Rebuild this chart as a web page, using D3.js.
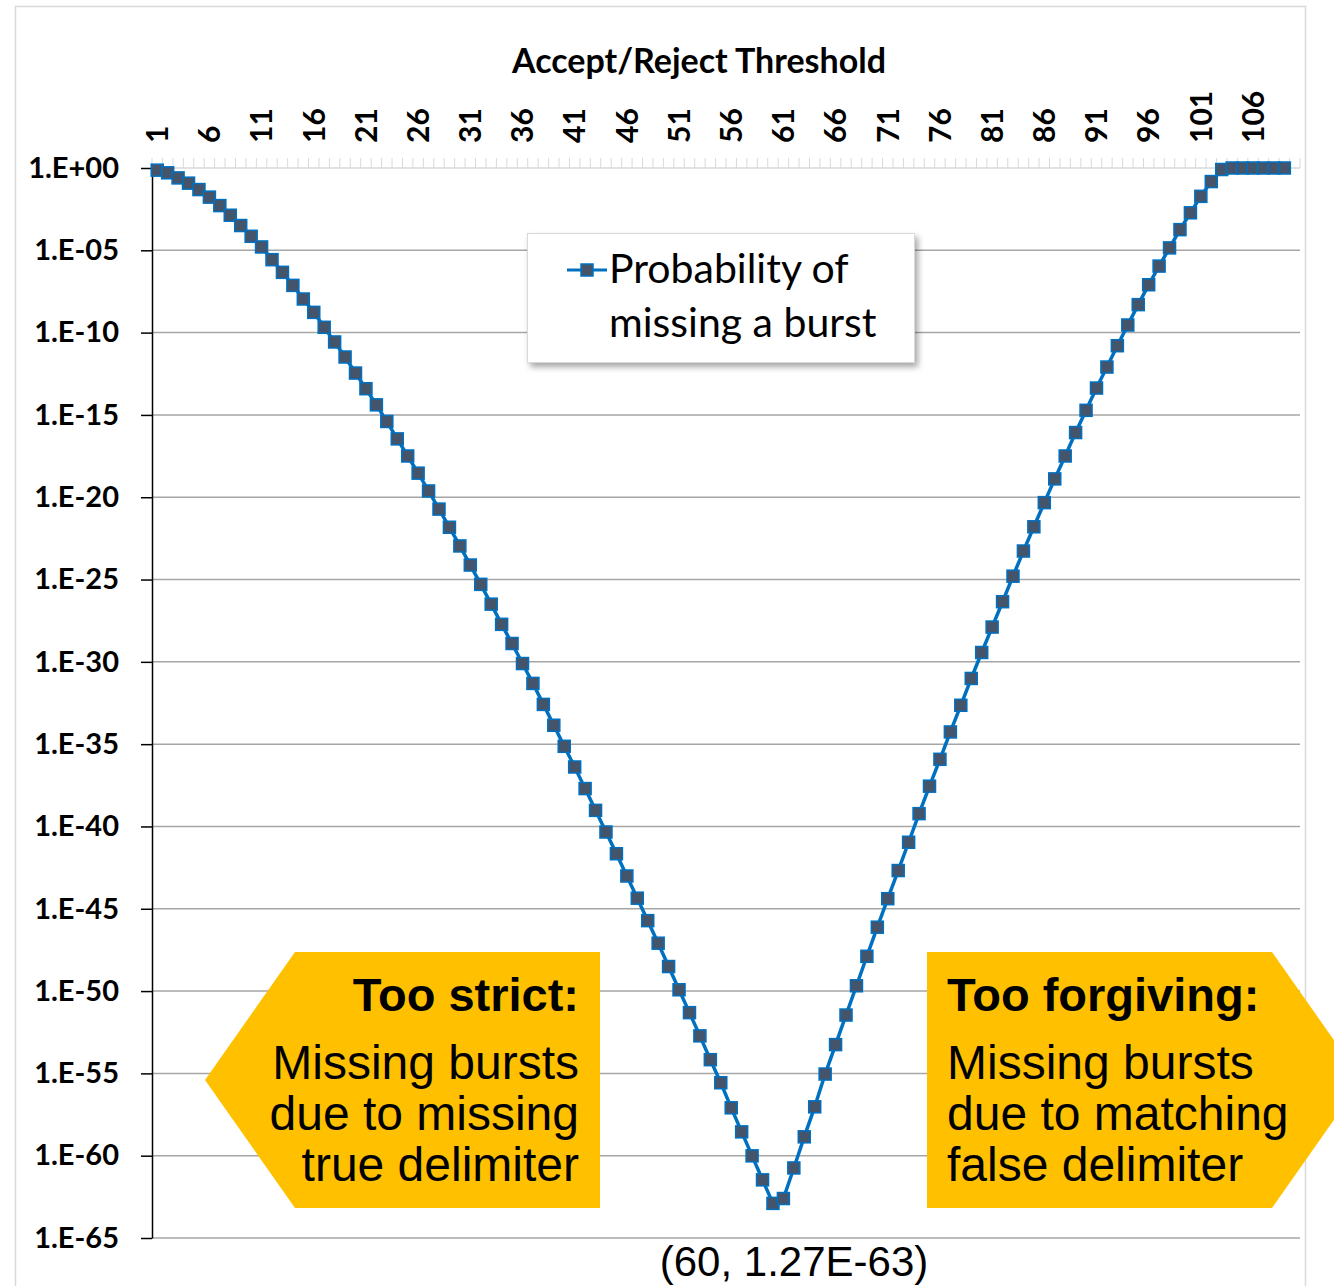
<!DOCTYPE html>
<html><head><meta charset="utf-8">
<script src="https://cdn.jsdelivr.net/npm/d3@7"></script>
<style>body{margin:0;background:#fff} svg{display:block}</style>
</head><body>
<svg id="chart" width="1334" height="1286"></svg>
<script>
const thresholds = [
  1,2,3,4,5,6,7,8,9,10,11,12,13,14,15,16,17,18,19,20,
  21,22,23,24,25,26,27,28,29,30,31,32,33,34,35,36,37,38,39,40,
  41,42,43,44,45,46,47,48,49,50,51,52,53,54,55,56,57,58,59,60,
  61,62,63,64,65,66,67,68,69,70,71,72,73,74,75,76,77,78,79,80,
  81,82,83,84,85,86,87,88,89,90,91,92,93,94,95,96,97,98,99,100,
  101,102,103,104,105,106,107,108,109,110];
const probMissing = [
  7.4e-1, 5.1e-1, 2.5e-1, 1.2e-1, 4.9e-2, 1.7e-2, 5.2e-3, 1.35e-3, 3.2e-4, 7.1e-5,
  1.6e-5, 2.7e-6, 4.6e-7, 7.4e-8, 1.1e-8, 1.7e-9, 2.1e-10, 2.7e-11, 3.3e-12, 3.5e-13,
  3.9e-14, 4.1e-15, 4.0e-16, 3.5e-17, 3.2e-18, 2.9e-19, 2.4e-20, 1.9e-21, 1.5e-22, 1.1e-23,
  7.6e-25, 5.1e-26, 3.2e-27, 1.9e-28, 1.3e-29, 7.9e-31, 4.9e-32, 2.6e-33, 1.4e-34, 7.4e-36,
  4.1e-37, 2.0e-38, 9.5e-40, 4.6e-41, 2.2e-42, 9.8e-44, 4.4e-45, 1.9e-46, 8.1e-48, 3.1e-49,
  1.2e-50, 4.9e-52, 1.9e-53, 6.8e-55, 2.7e-56, 8.1e-58, 2.8e-59, 9.8e-61, 3.4e-62, 1.27e-63,
  2.5e-63, 1.8e-61, 1.4e-59, 9.3e-58, 9.1e-56, 5.6e-54, 3.5e-52, 2.1e-50, 1.3e-48, 7.6e-47,
  4.1e-45, 2.1e-43, 1.1e-41, 6.0e-40, 2.8e-38, 1.2e-36, 5.5e-35, 2.3e-33, 9.8e-32, 3.7e-30,
  1.3e-28, 4.5e-27, 1.6e-25, 5.4e-24, 1.6e-22, 4.7e-21, 1.3e-19, 3.2e-18, 8.5e-17, 1.9e-15,
  4.3e-14, 8.1e-13, 1.6e-11, 2.9e-10, 5.0e-9, 8.1e-8, 1.1e-6, 1.4e-5, 1.8e-4, 1.9e-3,
  1.9e-2, 1.5e-1, 8.1e-1, 1, 1, 1, 1, 1, 1, null];
const xTickLabels = [1,6,11,16,21,26,31,36,41,46,51,56,61,66,71,76,81,86,91,96,101,106];
const yTickValues = [1e0,1e-5,1e-10,1e-15,1e-20,1e-25,1e-30,1e-35,1e-40,1e-45,1e-50,1e-55,1e-60,1e-65];
const yTickLabels = ["1.E+00","1.E-05","1.E-10","1.E-15","1.E-20","1.E-25","1.E-30","1.E-35","1.E-40","1.E-45","1.E-50","1.E-55","1.E-60","1.E-65"];
const xAxisTitle = "Accept/Reject Threshold";
const legendLines = ["Probability of", "missing a burst"];
const leftNoteTitle = "Too strict:";
const leftNoteLines = ["Missing bursts", "due to missing", "true delimiter"];
const rightNoteTitle = "Too forgiving:";
const rightNoteLines = ["Missing bursts", "due to matching", "false delimiter"];
const minLabel = "(60, 1.27E-63)";

(function () {
const svg = d3.select("#chart");
const defs = svg.append("defs");
const f = defs.append("filter").attr("id","shadow").attr("x","-10%").attr("y","-10%").attr("width","130%").attr("height","140%");
f.append("feDropShadow").attr("dx",3).attr("dy",4).attr("stdDeviation",3).attr("flood-color","#000").attr("flood-opacity",0.35);

// chart border
svg.append("rect").attr("x",15.5).attr("y",6.5).attr("width",1290).attr("height",1300)
  .attr("fill","#fff").attr("stroke","#d9d9d9").attr("stroke-width",1.5);

const pL = 152, pR = 1300, pT = 168, pB = 1238;
const x = d3.scaleBand().domain(thresholds).range([pL, pR]).paddingInner(0).paddingOuter(0);
const bw = x.bandwidth();
const y = d3.scaleLog().domain([1e-65, 1]).range([pB, pT]);

// gridlines
svg.append("g").selectAll("line").data(yTickValues.filter(v => v < 1)).join("line")
  .attr("x1", pL).attr("x2", pR).attr("y1", d => y(d)).attr("y2", d => y(d))
  .attr("stroke", "#a6a6a6").attr("stroke-width", 1.5);

// top category axis line + ticks
const tickPos = thresholds.map(c => x(c)).concat([pR]);
svg.append("g").selectAll("line").data(tickPos).join("line")
  .attr("x1", d => d).attr("x2", d => d).attr("y1", pT - 10).attr("y2", pT)
  .attr("stroke", "#d9d9d9").attr("stroke-width", 1);
svg.append("line").attr("x1", pL).attr("x2", pR).attr("y1", pT).attr("y2", pT)
  .attr("stroke", "#d9d9d9").attr("stroke-width", 1.5);

// top labels
const xa = svg.append("g").attr("transform", `translate(0,143)`)
  .call(d3.axisTop(x).tickValues(xTickLabels).tickSize(0).tickPadding(0));
xa.select(".domain").remove();
xa.selectAll("text").attr("transform", "rotate(-90)").attr("x", 0).attr("y", 0)
  .attr("dy", "0.36em").attr("text-anchor", "start")
  .attr("font-family", "Lato").attr("font-weight", "bold").attr("font-size", 30).attr("fill", "#000");

// y axis
const ya = svg.append("g").attr("transform", `translate(${pL},0)`)
  .call(d3.axisLeft(y).tickValues(yTickValues).tickFormat((d, i) => yTickLabels[i])
    .tickSize(11).tickSizeOuter(0).tickPadding(22));
ya.select(".domain").attr("stroke", "#000").attr("stroke-width", 1.5);
ya.selectAll(".tick line").attr("stroke", "#000").attr("stroke-width", 1.5);
ya.selectAll("text").attr("font-family", "Lato").attr("font-weight", "bold").attr("font-size", 29).attr("fill", "#000");

// axis title
svg.append("text").attr("x", 699).attr("y", 73).attr("text-anchor", "middle")
  .attr("font-family", "Lato").attr("font-weight", "bold").attr("font-size", 34).text(xAxisTitle);

// annotations
svg.append("polygon").attr("fill", "#FFC000")
  .attr("points", "205,1080 295,952 600,952 600,1208 295,1208");
svg.append("polygon").attr("fill", "#FFC000")
  .attr("points", "927,952 1272,952 1362,1080 1272,1208 927,1208");
const noteFont = "'Liberation Sans', Arial, sans-serif";
svg.append("text").attr("x", 579).attr("y", 1011).attr("text-anchor", "end")
  .attr("font-family", noteFont).attr("font-weight", "bold").attr("font-size", 47).text(leftNoteTitle);
svg.append("g").selectAll("text").data(leftNoteLines).join("text")
  .attr("x", 579).attr("y", (d, i) => 1079 + i * 51).attr("text-anchor", "end")
  .attr("font-family", noteFont).attr("font-size", 48).text(d => d);
svg.append("text").attr("x", 947).attr("y", 1011).attr("text-anchor", "start")
  .attr("font-family", noteFont).attr("font-weight", "bold").attr("font-size", 47).text(rightNoteTitle);
svg.append("g").selectAll("text").data(rightNoteLines).join("text")
  .attr("x", 947).attr("y", (d, i) => 1079 + i * 51).attr("text-anchor", "start")
  .attr("font-family", noteFont).attr("font-size", 48).text(d => d);

// series
const pts = thresholds.map((c, i) => ({c, v: probMissing[i]})).filter(d => d.v != null);
const line = d3.line().x(d => x(d.c) + bw / 2).y(d => y(d.v));
svg.append("path").datum(pts).attr("d", line).attr("fill", "none")
  .attr("stroke", "#0070C0").attr("stroke-width", 3.5).attr("stroke-linejoin", "round");
const ms = 12;
svg.append("g").selectAll("rect").data(pts).join("rect")
  .attr("x", d => x(d.c) + bw / 2 - ms / 2).attr("y", d => y(d.v) - ms / 2)
  .attr("width", ms).attr("height", ms)
  .attr("fill", "#44546A").attr("stroke", "#0070C0").attr("stroke-width", 1.5);

// min label
svg.append("text").attr("x", 794).attr("y", 1276).attr("text-anchor", "middle")
  .attr("font-family", noteFont).attr("font-size", 42).text(minLabel);

// legend
const lg = svg.append("g");
lg.append("rect").attr("x", 527.5).attr("y", 233.5).attr("width", 387).attr("height", 129)
  .attr("fill", "#fff").attr("stroke", "#d9d9d9").attr("stroke-width", 1).attr("filter", "url(#shadow)");
lg.append("line").attr("x1", 567).attr("x2", 607).attr("y1", 270).attr("y2", 270)
  .attr("stroke", "#0070C0").attr("stroke-width", 3);
lg.append("rect").attr("x", 587 - ms / 2).attr("y", 270 - ms / 2).attr("width", ms).attr("height", ms)
  .attr("fill", "#44546A").attr("stroke", "#0070C0").attr("stroke-width", 1.5);
lg.selectAll("text.l").data(legendLines).join("text").attr("class", "l")
  .attr("x", 609).attr("y", (d, i) => 283 + i * 54)
  .attr("font-family", "Lato").attr("font-size", 41).text(d => d);
})();
</script>
</body></html>
